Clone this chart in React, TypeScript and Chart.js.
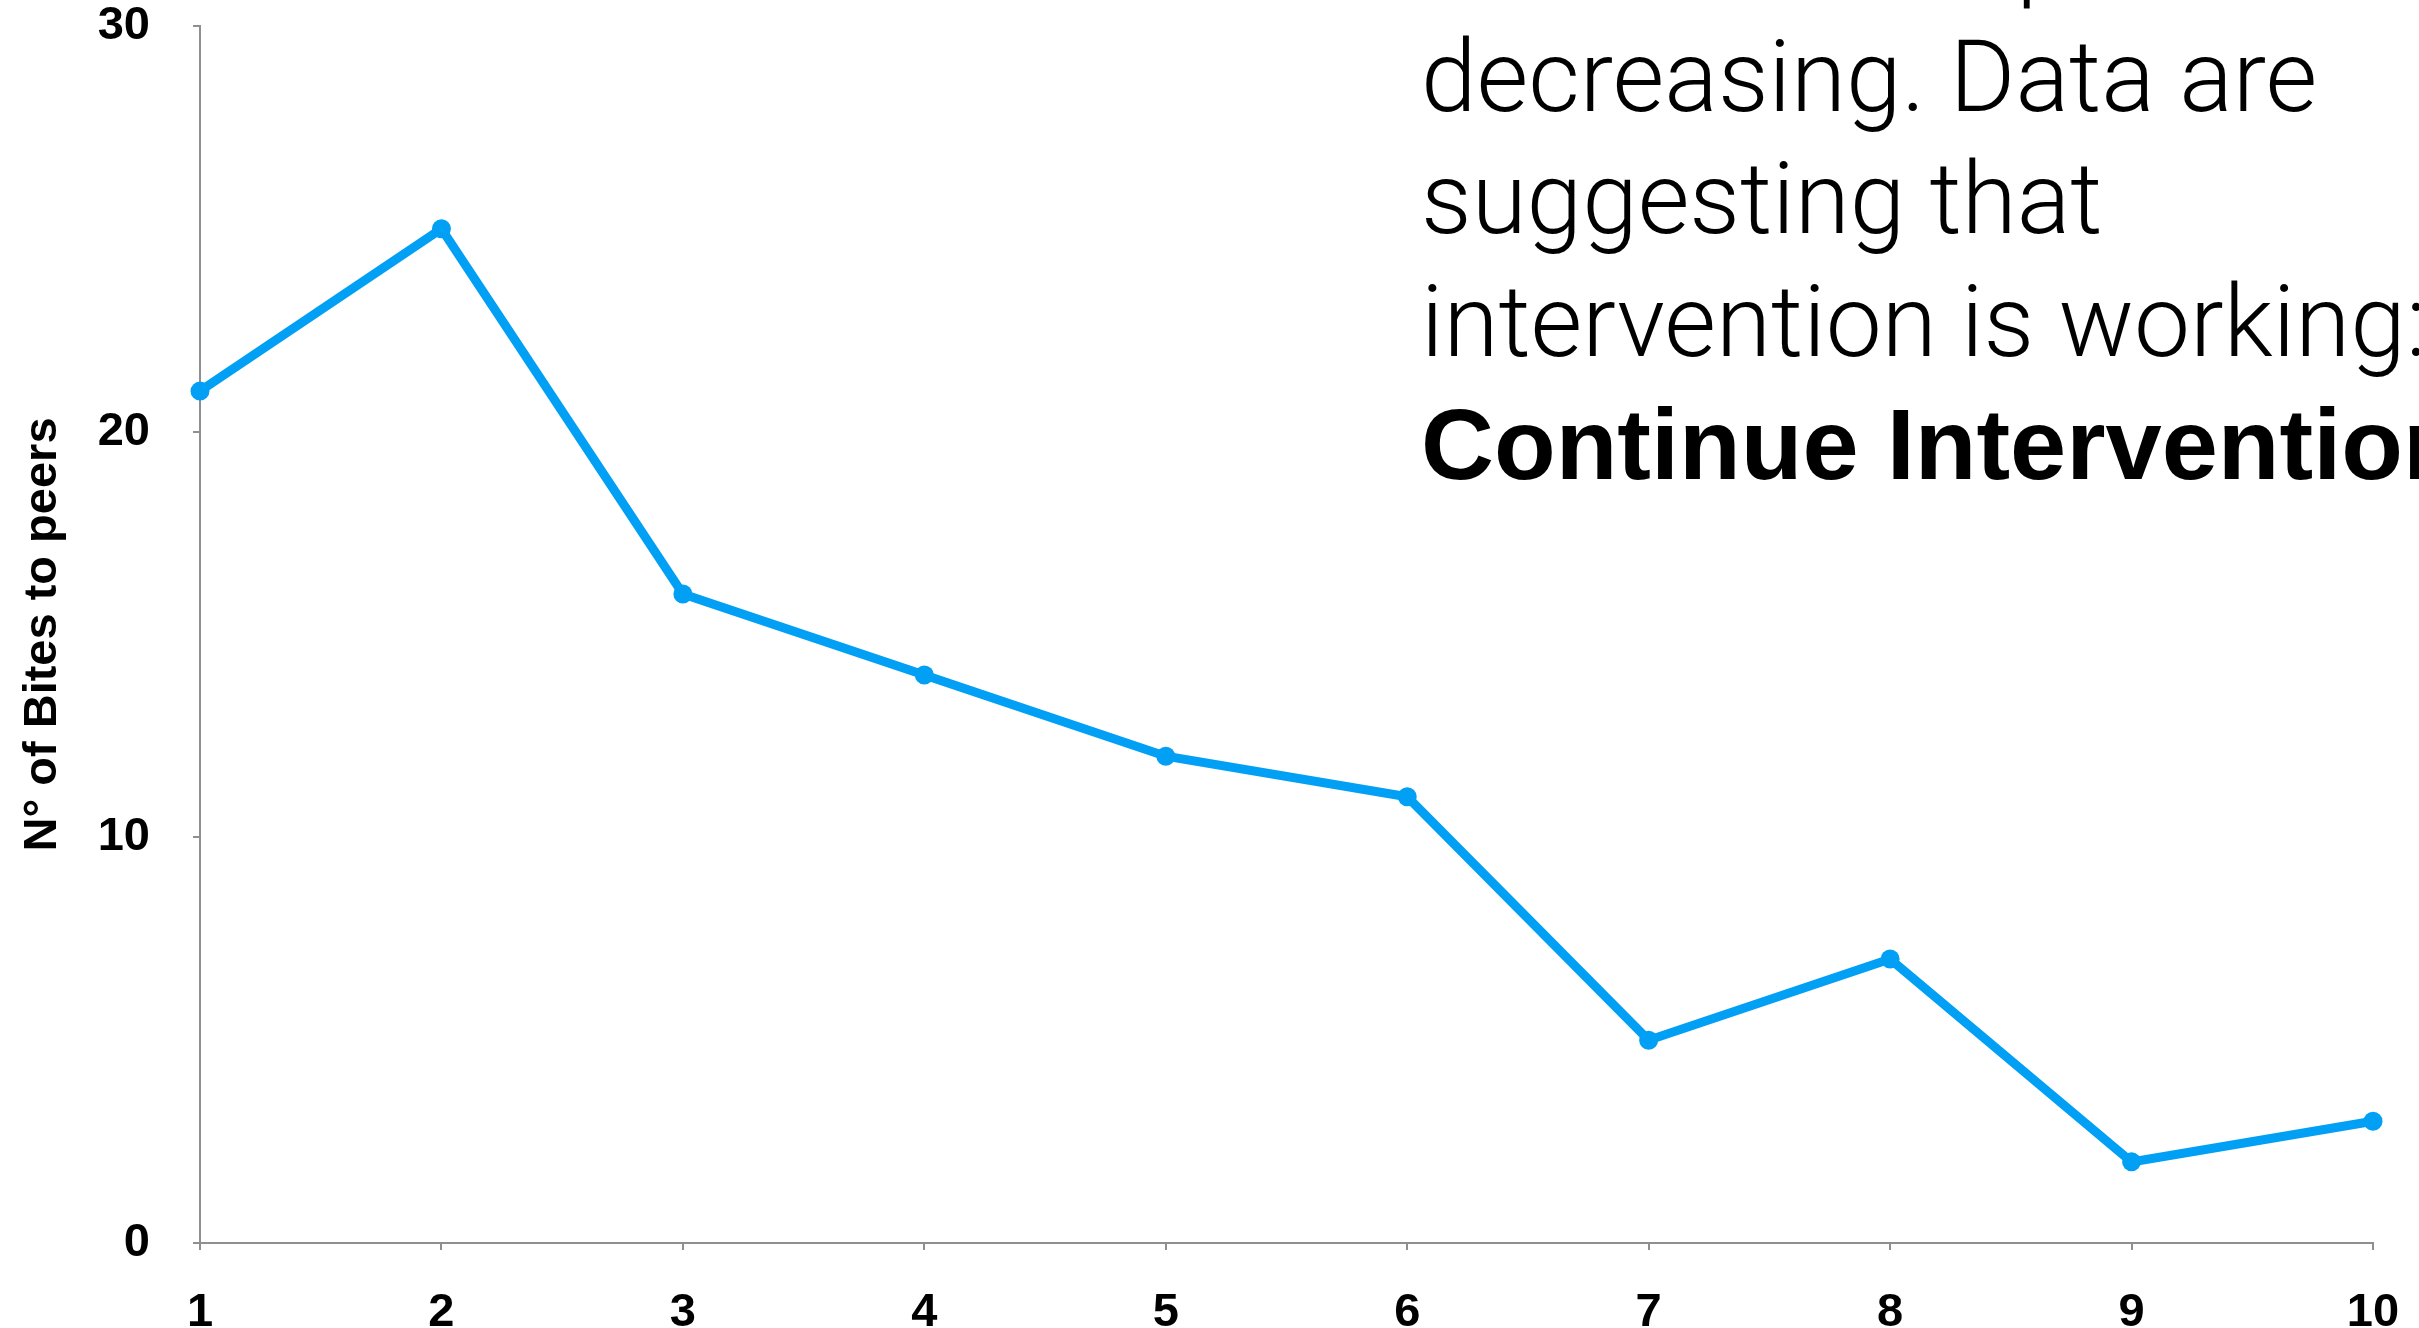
import React, { useEffect, useRef } from "react";
import { Chart, registerables } from "chart.js";

Chart.register(...registerables);

const categories = ["1", "2", "3", "4", "5", "6", "7", "8", "9", "10"];
const bitesToPeers = [21, 25, 16, 14, 12, 11, 5, 7, 2, 3];
const yMin = 0;
const yMax = 30;
const yStep = 10;
const yTitle = "N° of Bites to peers";
const noteLines = [
  "N° of bites to peers is",
  "decreasing. Data are",
  "suggesting that",
  "intervention is working:",
];
const noteBold = "Continue Intervention";

const W = 2419;
const H = 1328;
const FONT = "'Liberation Sans', Arial, Helvetica, sans-serif";
const AXIS_GRAY = "#8f8f8f";
const LINE_BLUE = "#02a0f5";

export default function App() {
  const canvasRef = useRef<HTMLCanvasElement | null>(null);

  useEffect(() => {
    const canvas = canvasRef.current;
    if (!canvas) return;
    const chart = new Chart(canvas, {
      type: "line",
      data: {
        labels: categories,
        datasets: [
          {
            data: bitesToPeers,
            borderColor: LINE_BLUE,
            backgroundColor: LINE_BLUE,
            borderWidth: 9,
            pointRadius: 9.5,
            pointBorderWidth: 0,
            pointBackgroundColor: LINE_BLUE,
            tension: 0,
            fill: false,
            clip: false as any,
          },
        ],
      },
      options: {
        animation: false,
        responsive: false,
        devicePixelRatio: 1,
        layout: { padding: { top: 26, right: 46, left: 0, bottom: 0 } },
        plugins: {
          legend: { display: false },
          tooltip: { enabled: false },
          title: { display: false },
        },
        scales: {
          x: {
            type: "category",
            offset: false,
            grid: {
              display: true,
              drawOnChartArea: false,
              drawTicks: true,
              tickLength: 7,
              color: AXIS_GRAY,
              lineWidth: 2,
            },
            border: { display: true, color: AXIS_GRAY, width: 2 },
            ticks: {
              color: "#000",
              font: { family: FONT, size: 47, weight: "bold" },
              padding: 35,
              maxRotation: 0,
              autoSkip: false,
            },
            afterFit: (s: any) => {
              s.height = 85;
              s.paddingLeft = 0;
              s.paddingRight = 0;
            },
          },
          y: {
            min: yMin,
            max: yMax,
            grid: {
              display: true,
              drawOnChartArea: false,
              drawTicks: true,
              tickLength: 7,
              color: AXIS_GRAY,
              lineWidth: 2,
            },
            border: { display: true, color: AXIS_GRAY, width: 2 },
            ticks: {
              stepSize: yStep,
              color: "#000",
              font: { family: FONT, size: 47, weight: "bold" },
              padding: 43,
            },
            title: {
              display: true,
              text: yTitle,
              color: "#000",
              font: { family: FONT, size: 47, weight: "bold", lineHeight: 1 },
              padding: { top: 20, bottom: 0 },
            },
            afterFit: (s: any) => {
              s.width = 200;
              s.paddingTop = 0;
              s.paddingBottom = 0;
            },
          },
        },
      },
    });
    return () => chart.destroy();
  }, []);

  const lineH = 122.6;
  const fontSize = 100;
  const firstTop = -107;

  return (
    <div
      style={{
        position: "fixed",
        left: 0,
        top: 0,
        width: W,
        height: H,
        overflow: "hidden",
        background: "#fff",
      }}
    >
      <canvas ref={canvasRef} width={W} height={H} style={{ display: "block", width: W, height: H }} />
      <div
        style={{
          position: "absolute",
          left: 1421,
          top: firstTop,
          whiteSpace: "nowrap",
          fontFamily: "Roboto, 'Liberation Sans', sans-serif",
          fontWeight: 300,
          fontSize: fontSize,
          lineHeight: `${lineH}px`,
          color: "#000",
        }}
      >
        {noteLines.map((t, i) => (
          <div key={i}>{t}</div>
        ))}
        <div style={{ fontFamily: FONT, fontWeight: 700, fontSize: 101 }}>{noteBold}</div>
      </div>
    </div>
  );
}
